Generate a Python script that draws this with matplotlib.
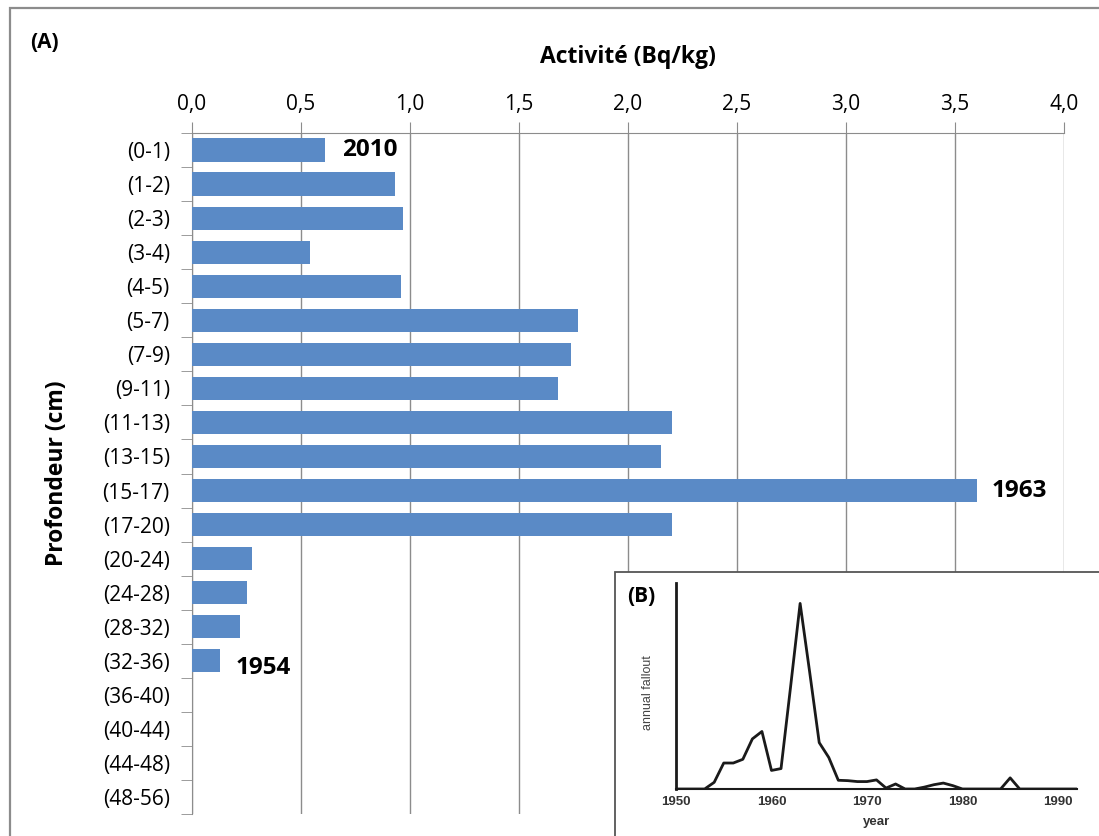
import numpy as np
import matplotlib.pyplot as plt
from matplotlib.patches import Rectangle
from matplotlib.ticker import FixedLocator

plt.rcParams['font.family'] = ['Open Sans', 'DejaVu Sans']

# %% data
depths = ['(0-1)', '(1-2)', '(2-3)', '(3-4)', '(4-5)', '(5-7)', '(7-9)', '(9-11)',
          '(11-13)', '(13-15)', '(15-17)', '(17-20)', '(20-24)', '(24-28)',
          '(28-32)', '(32-36)', '(36-40)', '(40-44)', '(44-48)', '(48-56)']
activity = [0.61, 0.93, 0.97, 0.54, 0.96, 1.77, 1.74, 1.68,
            2.20, 2.15, 3.60, 2.20, 0.275, 0.25, 0.22, 0.13, 0, 0, 0, 0]
dates = {'2010': (0.69, 0), '1963': (3.67, 10), '1954': (0.20, 15.2)}

years = [1950, 1953, 1954, 1955, 1956, 1957, 1958, 1959, 1960, 1961, 1962, 1963,
         1964, 1965, 1966, 1967, 1968, 1969, 1970, 1971, 1972, 1973, 1974, 1975,
         1976, 1977, 1978, 1979, 1980, 1984, 1985, 1986, 1992]
fallout = [0, 0, 0.036, 0.14, 0.14, 0.16, 0.27, 0.31, 0.10, 0.11, 0.55, 1.0,
           0.63, 0.25, 0.17, 0.047, 0.045, 0.04, 0.04, 0.049, 0.005, 0.027, 0, 0,
           0.01, 0.023, 0.032, 0.018, 0, 0, 0.06, 0, 0]

# %% main chart
fig = plt.figure(figsize=(10.99, 8.36), dpi=100)
fig.add_artist(Rectangle((10 / 1099, -0.1), 1.2, 1 - 8 / 836 + 0.1,
                         transform=fig.transFigure, fill=False,
                         edgecolor='#8c8c8c', lw=1.6))

ax = fig.add_axes([192 / 1099, 1 - 814 / 836, 872 / 1099, 681 / 836])
pos = np.arange(len(depths))
ax.barh(pos, activity, height=0.68, color='#5a8ac6', lw=0, zorder=3)
ax.set_ylim(len(depths) - 0.5, -0.5)
ax.set_xlim(0, 4)
ax.set_xticks(np.arange(0, 4.01, 0.5))
ax.set_xticklabels([f'{v:.1f}'.replace('.', ',') for v in np.arange(0, 4.01, 0.5)])
ax.xaxis.tick_top()
ax.xaxis.set_label_position('top')
ax.tick_params(axis='x', length=8, color='#8c8c8c', labelsize=15, pad=5)
ax.set_yticks(pos)
ax.set_yticklabels(depths)
ax.yaxis.set_minor_locator(FixedLocator(np.arange(-0.5, len(depths), 1)))
ax.tick_params(axis='y', which='major', length=0, labelsize=15, pad=16)
ax.tick_params(axis='y', which='minor', length=8, color='#8c8c8c')
ax.grid(axis='x', color='#8c8c8c', lw=1, zorder=0)
for s in ['right', 'bottom']:
    ax.spines[s].set_visible(False)
for s in ['left', 'top']:
    ax.spines[s].set_color('#8c8c8c')
ax.set_xlabel('Activité (Bq/kg)', fontsize=16.5, fontweight='bold', labelpad=22)
ax.set_ylabel('Profondeur (cm)', fontsize=16.5, fontweight='bold', labelpad=24)

for txt, (x, y) in dates.items():
    ax.text(x, y, txt, fontsize=17.5, fontweight='bold', va='center', ha='left', zorder=4)

fig.text(30 / 1099, 1 - 42 / 836, '(A)', fontsize=15, fontweight='bold', va='center')

# %% inset (B)
fig.add_artist(Rectangle((615 / 1099, -0.1), 0.5, 0.1 + 1 - 572 / 836,
                         transform=fig.transFigure, facecolor='white',
                         edgecolor='#555555', lw=1.3, zorder=5))
ins = fig.add_axes([676 / 1099, 1 - 789 / 836, 401 / 1099, 206 / 836], zorder=6)
ins.patch.set_alpha(0)
ins.plot(years, fallout, color='#1a1a1a', lw=2)
ins.set_xlim(1950, 1992)
ins.set_ylim(0, 1.11)
ins.set_xticks([1950, 1960, 1970, 1980, 1990])
ins.set_yticks([])
ins.tick_params(axis='x', length=0, labelsize=9.5, pad=5, labelcolor='#333333')
for lab in ins.get_xticklabels():
    lab.set_fontweight('bold')
    lab.set_family(['Liberation Sans', 'DejaVu Sans'])
for s in ['right', 'top']:
    ins.spines[s].set_visible(False)
ins.spines['left'].set_linewidth(2)
ins.spines['bottom'].set_linewidth(1.5)
ins.spines['left'].set_color('#1a1a1a')
ins.spines['bottom'].set_color('#1a1a1a')
ins.set_xlabel('year', fontsize=9.5, fontweight='bold', color='#333333',
               family=['Liberation Sans', 'DejaVu Sans'], labelpad=6)
ins.set_ylabel('annual fallout', fontsize=9, color='#444444',
               family=['Liberation Sans Narrow', 'Liberation Sans', 'DejaVu Sans'])
ins.yaxis.set_label_coords(-0.055, 0.47)
fig.text(627 / 1099, 1 - 597 / 836, '(B)', fontsize=15, fontweight='bold',
         va='center', zorder=7)

fig.savefig('out.png', dpi=100)
